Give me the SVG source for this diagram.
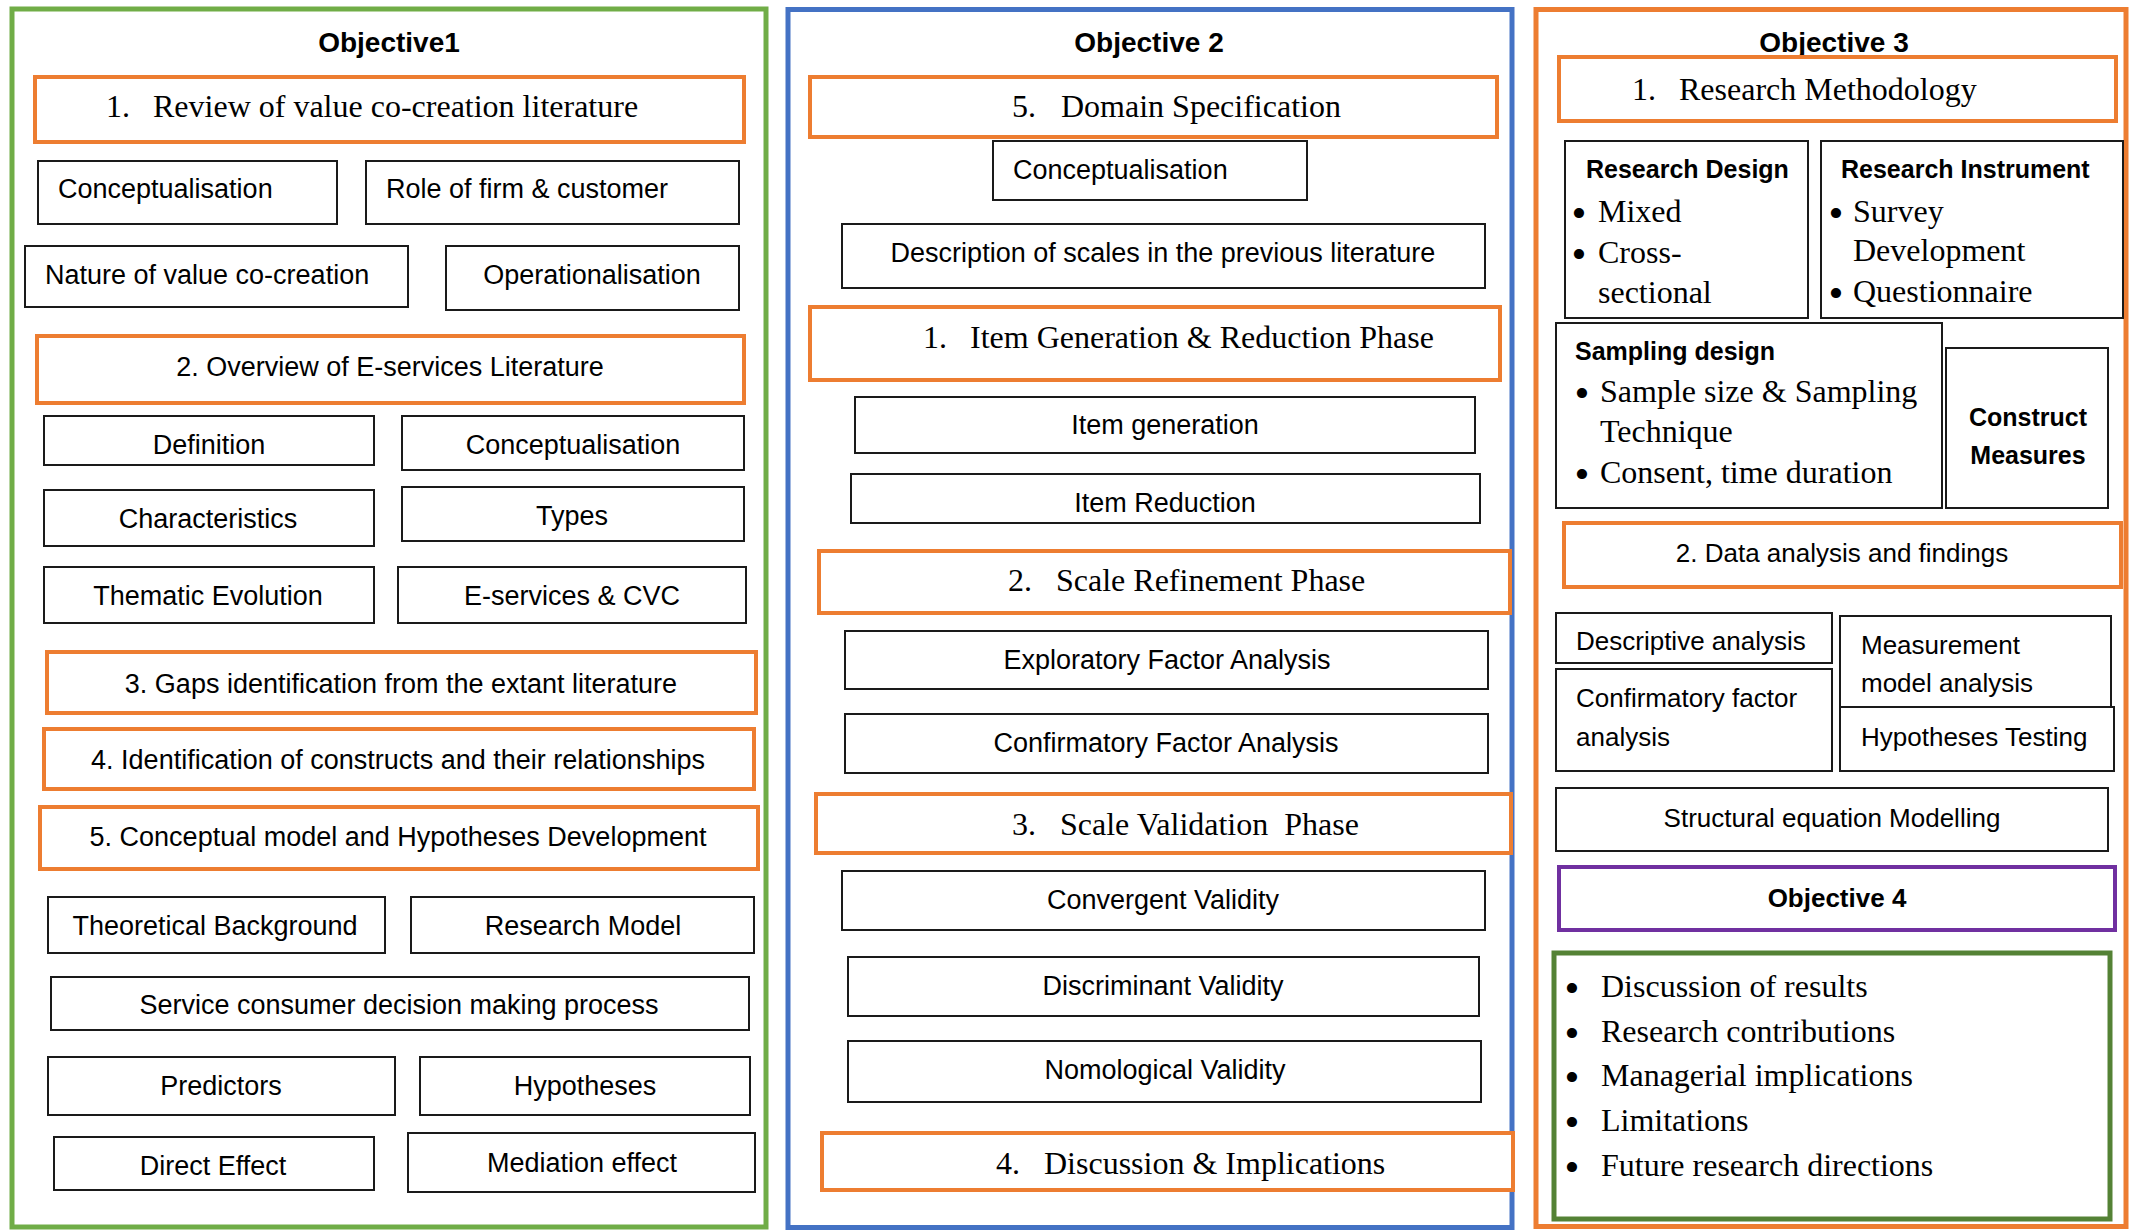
<svg xmlns="http://www.w3.org/2000/svg" width="2129" height="1230" viewBox="0 0 2129 1230">
  <style>
    .panel { fill: none; stroke-width: 5; }
    .step { fill: #fff; stroke: #ED7D31; stroke-width: 4; }
    .box { fill: #fff; stroke: #1a1a1a; stroke-width: 2; }
    text { fill: #000; }
    .sans { font-family: "Liberation Sans", Arial, sans-serif; font-size: 27px; }
    .s26 { font-size: 26px; }
    .bold { font-weight: bold; }
    .head { font-family: "Liberation Sans", Arial, sans-serif; font-size: 25px; font-weight: bold; }
    .title { font-family: "Liberation Sans", Arial, sans-serif; font-size: 28px; font-weight: bold; text-anchor: middle; }
    .serif { font-family: "Liberation Serif", "Times New Roman", serif; font-size: 32px; }
    .bl { font-size: 34px; stroke: #000; stroke-width: 2px; }
    .c { text-anchor: middle; }
  </style>

  <!-- Objective 1 column -->
  <g id="objective1">
    <rect class="panel" x="12" y="9" width="754" height="1218" stroke="#70AD47"/>
    <text class="title" x="389" y="52">Objective1</text>
  </g>
  <g id="o1-step1">
    <rect class="step" x="35" y="77" width="709" height="65"/>
    <text class="serif" x="106" y="117">1.</text>
    <text class="serif" x="153" y="117">Review of value co-creation literature</text>
  </g>
  <g id="o1-conceptualisation">
    <rect class="box" x="38" y="161" width="299" height="63"/>
    <text class="sans" x="58" y="198">Conceptualisation</text>
  </g>
  <g id="o1-role">
    <rect class="box" x="366" y="161" width="373" height="63"/>
    <text class="sans" x="386" y="198">Role of firm &amp; customer</text>
  </g>
  <g id="o1-nature">
    <rect class="box" x="25" y="246" width="383" height="61"/>
    <text class="sans" x="45" y="284">Nature of value co-creation</text>
  </g>
  <g id="o1-operationalisation">
    <rect class="box" x="446" y="246" width="293" height="64"/>
    <text class="sans c" x="592" y="284">Operationalisation</text>
  </g>
  <g id="o1-step2">
    <rect class="step" x="37" y="336" width="707" height="67"/>
    <text class="sans c" x="390" y="376">2. Overview of E-services Literature</text>
  </g>
  <g id="o1-definition">
    <rect class="box" x="44" y="416" width="330" height="49"/>
    <text class="sans c" x="209" y="454">Definition</text>
  </g>
  <g id="o1-conceptualisation2">
    <rect class="box" x="402" y="416" width="342" height="54"/>
    <text class="sans c" x="573" y="454">Conceptualisation</text>
  </g>
  <g id="o1-characteristics">
    <rect class="box" x="44" y="490" width="330" height="56"/>
    <text class="sans c" x="208" y="528">Characteristics</text>
  </g>
  <g id="o1-types">
    <rect class="box" x="402" y="487" width="342" height="54"/>
    <text class="sans c" x="572" y="525">Types</text>
  </g>
  <g id="o1-thematic">
    <rect class="box" x="44" y="567" width="330" height="56"/>
    <text class="sans c" x="208" y="605">Thematic Evolution</text>
  </g>
  <g id="o1-eservices-cvc">
    <rect class="box" x="398" y="567" width="348" height="56"/>
    <text class="sans c" x="572" y="605">E-services &amp; CVC</text>
  </g>
  <g id="o1-step3">
    <rect class="step" x="47" y="652" width="709" height="61"/>
    <text class="sans c" x="401" y="693">3. Gaps identification from the extant literature</text>
  </g>
  <g id="o1-step4">
    <rect class="step" x="44" y="729" width="710" height="60"/>
    <text class="sans c" x="398" y="769">4. Identification of constructs and their relationships</text>
  </g>
  <g id="o1-step5">
    <rect class="step" x="40" y="807" width="718" height="62"/>
    <text class="sans c" x="398" y="846">5. Conceptual model and Hypotheses Development</text>
  </g>
  <g id="o1-theoretical">
    <rect class="box" x="48" y="897" width="337" height="56"/>
    <text class="sans c" x="215" y="935">Theoretical Background</text>
  </g>
  <g id="o1-research-model">
    <rect class="box" x="411" y="897" width="343" height="56"/>
    <text class="sans c" x="583" y="935">Research Model</text>
  </g>
  <g id="o1-decision-process">
    <rect class="box" x="51" y="977" width="698" height="53"/>
    <text class="sans c" x="399" y="1014">Service consumer decision making process</text>
  </g>
  <g id="o1-predictors">
    <rect class="box" x="48" y="1057" width="347" height="58"/>
    <text class="sans c" x="221" y="1095">Predictors</text>
  </g>
  <g id="o1-hypotheses">
    <rect class="box" x="420" y="1057" width="330" height="58"/>
    <text class="sans c" x="585" y="1095">Hypotheses</text>
  </g>
  <g id="o1-direct">
    <rect class="box" x="54" y="1137" width="320" height="53"/>
    <text class="sans c" x="213" y="1175">Direct Effect</text>
  </g>
  <g id="o1-mediation">
    <rect class="box" x="408" y="1133" width="347" height="59"/>
    <text class="sans c" x="582" y="1172">Mediation effect</text>
  </g>

  <!-- Objective 2 column -->
  <g id="objective2">
    <rect class="panel" x="788" y="9.5" width="724" height="1218" stroke="#4472C4"/>
    <text class="title" x="1149" y="52">Objective 2</text>
  </g>
  <g id="o2-domain">
    <rect class="step" x="810" y="77" width="687" height="60"/>
    <text class="serif" x="1012" y="117">5.</text>
    <text class="serif" x="1061" y="117">Domain Specification</text>
  </g>
  <g id="o2-conceptualisation">
    <rect class="box" x="993" y="141" width="314" height="59"/>
    <text class="sans" x="1013" y="179">Conceptualisation</text>
  </g>
  <g id="o2-description">
    <rect class="box" x="842" y="224" width="643" height="64"/>
    <text class="sans c" x="1163" y="262">Description of scales in the previous literature</text>
  </g>
  <g id="o2-item-phase">
    <rect class="step" x="810" y="307" width="690" height="73"/>
    <text class="serif" x="923" y="348">1.</text>
    <text class="serif" x="970" y="348">Item Generation &amp; Reduction Phase</text>
  </g>
  <g id="o2-item-generation">
    <rect class="box" x="855" y="397" width="620" height="56"/>
    <text class="sans c" x="1165" y="434">Item generation</text>
  </g>
  <g id="o2-item-reduction">
    <rect class="box" x="851" y="474" width="629" height="49"/>
    <text class="sans c" x="1165" y="512">Item Reduction</text>
  </g>
  <g id="o2-refinement">
    <rect class="step" x="819" y="551" width="691" height="62"/>
    <text class="serif" x="1008" y="591">2.</text>
    <text class="serif" x="1056" y="591">Scale Refinement Phase</text>
  </g>
  <g id="o2-efa">
    <rect class="box" x="845" y="631" width="643" height="58"/>
    <text class="sans c" x="1167" y="669">Exploratory Factor Analysis</text>
  </g>
  <g id="o2-cfa">
    <rect class="box" x="845" y="714" width="643" height="59"/>
    <text class="sans c" x="1166" y="752">Confirmatory Factor Analysis</text>
  </g>
  <g id="o2-validation">
    <rect class="step" x="816" y="794" width="695" height="59"/>
    <text class="serif" x="1012" y="835">3.</text>
    <text class="serif" x="1060" y="835" xml:space="preserve">Scale Validation  Phase</text>
  </g>
  <g id="o2-convergent">
    <rect class="box" x="842" y="871" width="643" height="59"/>
    <text class="sans c" x="1163" y="909">Convergent Validity</text>
  </g>
  <g id="o2-discriminant">
    <rect class="box" x="848" y="957" width="631" height="59"/>
    <text class="sans c" x="1163" y="995">Discriminant Validity</text>
  </g>
  <g id="o2-nomological">
    <rect class="box" x="848" y="1041" width="633" height="61"/>
    <text class="sans c" x="1165" y="1079">Nomological Validity</text>
  </g>
  <g id="o2-discussion">
    <rect class="step" x="822" y="1133" width="691" height="57"/>
    <text class="serif" x="996" y="1174">4.</text>
    <text class="serif" x="1044" y="1174">Discussion &amp; Implications</text>
  </g>

  <!-- Objective 3 column -->
  <g id="objective3">
    <rect class="panel" x="1536" y="9.5" width="590" height="1217" stroke="#ED7D31"/>
    <text class="title" x="1834" y="52">Objective 3</text>
  </g>
  <g id="o3-methodology">
    <rect class="step" x="1559" y="57" width="557" height="64" stroke-width="6"/>
    <text class="serif" x="1632" y="100">1.</text>
    <text class="serif" x="1679" y="100">Research Methodology</text>
  </g>
  <g id="o3-research-design">
    <rect class="box" x="1565" y="141" width="243" height="177"/>
    <text class="head" x="1586" y="178">Research Design</text>
    <text class="serif"><tspan class="bl" x="1573" y="225">•</tspan><tspan x="1598" y="222">Mixed</tspan></text>
    <text class="serif"><tspan class="bl" x="1573" y="266">•</tspan><tspan x="1598" y="263">Cross-</tspan></text>
    <text class="serif" x="1598" y="303">sectional</text>
  </g>
  <g id="o3-research-instrument">
    <rect class="box" x="1821" y="141" width="302" height="177"/>
    <text class="head" x="1841" y="178">Research Instrument</text>
    <text class="serif"><tspan class="bl" x="1830" y="225">•</tspan><tspan x="1853" y="222">Survey</tspan></text>
    <text class="serif" x="1853" y="261">Development</text>
    <text class="serif"><tspan class="bl" x="1830" y="305">•</tspan><tspan x="1853" y="302">Questionnaire</tspan></text>
  </g>
  <g id="o3-sampling">
    <rect class="box" x="1556" y="323" width="386" height="185"/>
    <text class="head" x="1575" y="360">Sampling design</text>
    <text class="serif"><tspan class="bl" x="1576" y="405">•</tspan><tspan x="1600" y="402">Sample size &amp; Sampling</tspan></text>
    <text class="serif" x="1600" y="442">Technique</text>
    <text class="serif"><tspan class="bl" x="1576" y="486">•</tspan><tspan x="1600" y="483">Consent, time duration</tspan></text>
  </g>
  <g id="o3-construct-measures">
    <rect class="box" x="1946" y="348" width="162" height="160"/>
    <text class="head c" x="2028" y="426">Construct</text>
    <text class="head c" x="2028" y="464">Measures</text>
  </g>
  <g id="o3-data-analysis">
    <rect class="step" x="1564" y="523" width="557" height="64"/>
    <text class="sans s26 c" x="1842" y="562">2. Data analysis and findings</text>
  </g>
  <g id="o3-descriptive">
    <rect class="box" x="1556" y="613" width="276" height="50"/>
    <text class="sans s26" x="1576" y="650">Descriptive analysis</text>
  </g>
  <g id="o3-cfa">
    <rect class="box" x="1556" y="669" width="276" height="102"/>
    <text class="sans s26" x="1576" y="707">Confirmatory factor</text>
    <text class="sans s26" x="1576" y="746">analysis</text>
  </g>
  <g id="o3-measurement">
    <rect class="box" x="1840" y="616" width="271" height="91"/>
    <text class="sans s26" x="1861" y="654">Measurement</text>
    <text class="sans s26" x="1861" y="692">model analysis</text>
  </g>
  <g id="o3-hypotheses-testing">
    <rect class="box" x="1840" y="707" width="274" height="64"/>
    <text class="sans s26" x="1861" y="746">Hypotheses Testing</text>
  </g>
  <g id="o3-sem">
    <rect class="box" x="1556" y="788" width="552" height="63"/>
    <text class="sans s26 c" x="1832" y="827">Structural equation Modelling</text>
  </g>

  <!-- Objective 4 -->
  <g id="objective4">
    <rect x="1559" y="867" width="556" height="63" fill="#fff" stroke="#7030A0" stroke-width="4"/>
    <text class="title" x="1837" y="907" style="font-size:26px">Objective 4</text>
  </g>
  <g id="o4-outcomes">
    <rect x="1554" y="953" width="556" height="266" fill="#fff" stroke="#548235" stroke-width="5"/>
    <text class="serif"><tspan class="bl" x="1566" y="1000">•</tspan><tspan x="1601" y="997">Discussion of results</tspan></text>
    <text class="serif"><tspan class="bl" x="1566" y="1045">•</tspan><tspan x="1601" y="1042">Research contributions</tspan></text>
    <text class="serif"><tspan class="bl" x="1566" y="1089">•</tspan><tspan x="1601" y="1086">Managerial implications</tspan></text>
    <text class="serif"><tspan class="bl" x="1566" y="1134">•</tspan><tspan x="1601" y="1131">Limitations</tspan></text>
    <text class="serif"><tspan class="bl" x="1566" y="1179">•</tspan><tspan x="1601" y="1176">Future research directions</tspan></text>
  </g>
</svg>
